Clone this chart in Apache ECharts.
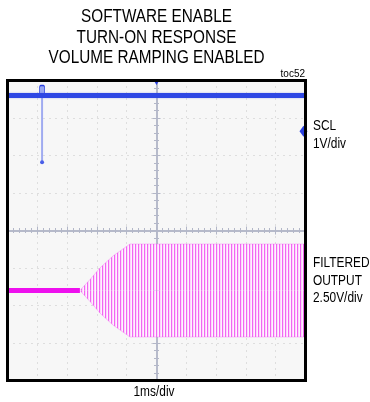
<!DOCTYPE html>
<html><head><meta charset="utf-8">
<script src="https://cdn.jsdelivr.net/npm/echarts@6/dist/echarts.min.js"></script>
<style>html,body{margin:0;padding:0;background:#fff}#c{width:370px;height:402px}</style>
</head><body><div id="c"></div>
<script>
// ---- text ----
const titleLines = ['SOFTWARE ENABLE', 'TURN-ON RESPONSE', 'VOLUME RAMPING ENABLED'];
const figureTag = 'toc52';
const timeScaleLabel = '1ms/div';
const ch1Label = ['SCL', '1V/div'];
const ch2Label = ['FILTERED', 'OUTPUT', '2.50V/div'];

// ---- data (time in ms, volts) ----
const sclLevel = [[-5, 0.95], [5, 0.95]];
const sclGlitch = [[-3.84, 0.95], [-3.84, -0.83]];
const outIdle = [[-5, 0], [-2.57, 0]];
const envTimes = [-2.57, -2.2, -1.9, -1.46, -0.89, 5];
const envUpper = [0, 0.8, 1.5, 2.3, 3.1, 3.1];
const envLower = [0, -0.8, -1.5, -2.3, -3.1, -3.1];

// ---- styles ----
const FONT = '"Liberation Sans", Arial, sans-serif';
const SQUEEZE = 0.85;
const pc = document.createElement('canvas');
pc.width = 3; pc.height = 2;
const g = pc.getContext('2d');
['#f266f2', '#fcd4fc', '#fff2ff'].forEach((c, i) => { g.fillStyle = c; g.fillRect(i, 0, 1, 2); });
const burstFill = { image: pc, repeat: 'repeat' };

const gridL = 7.5, gridT = 80.5, gridW = 298, gridH = 300;
const centerColor = '#b3b7c8';
const dotLine = { show: true, lineStyle: { color: '#c4c4c4', width: 1, type: [1, 5] } };

function divAxisX(pos, split) {
  return {
    type: 'value', min: -5, max: 5, interval: 1, position: pos,
    axisLine: { show: true, onZero: true, onZeroAxisIndex: 0, lineStyle: { color: centerColor, width: 1.5 } },
    axisTick: { show: true, inside: true, length: 4, lineStyle: { color: centerColor } },
    minorTick: { show: true, splitNumber: 5, length: 2.5, lineStyle: { color: centerColor } },
    splitLine: split ? dotLine : { show: false },
    axisLabel: { show: false }
  };
}
function divAxisY(pos, split) {
  return {
    type: 'value', min: -4, max: 4, interval: 1, position: pos,
    axisLine: { show: true, onZero: true, onZeroAxisIndex: 0, lineStyle: { color: centerColor, width: 1.5 } },
    axisTick: { show: true, inside: true, length: 4, lineStyle: { color: centerColor } },
    minorTick: { show: true, splitNumber: 5, length: 2.5, lineStyle: { color: centerColor } },
    splitLine: split ? dotLine : { show: false },
    axisLabel: { show: false }
  };
}

function label(text, x, y, size, align, squeeze) {
  return { type: 'text', z: 200, x: x, y: y, scaleX: squeeze, scaleY: 1,
    style: { text: text, x: 0, y: 0, textAlign: align, textVerticalAlign: 'middle', fontSize: size, fontFamily: FONT, fill: '#000' } };
}
const texts = [];
titleLines.forEach((t, i) => texts.push(label(t, 156.5, [17, 38, 58.5][i], 18, 'center', SQUEEZE)));
texts.push(label(figureTag, 305, 74.5, 10, 'right', 1));
ch1Label.forEach((t, i) => texts.push(label(t, 313, 126.5 + i * 18, 14, 'left', SQUEEZE)));
ch2Label.forEach((t, i) => texts.push(label(t, 313, 263.5 + i * 17.5, 14, 'left', SQUEEZE)));
texts.push(label(timeScaleLabel, 154, 392, 14, 'center', SQUEEZE));
texts.push({ type: 'rect', z: 150, shape: { x: gridL, y: gridT, width: gridW, height: gridH }, style: { fill: null, stroke: '#000', lineWidth: 3 } });

const chart = echarts.init(document.getElementById('c'), null, { renderer: 'canvas' });
chart.setOption({
  animation: false,
  backgroundColor: '#fff',
  grid: { left: gridL, top: gridT, width: gridW, height: gridH, show: true, backgroundColor: '#f7f7f7', borderWidth: 0 },
  xAxis: [divAxisX('bottom', true), divAxisX('top', false)],
  yAxis: [
    divAxisY('left', true), divAxisY('right', false),
    { type: 'value', min: -6.65, max: 1.35, show: false },
    { type: 'value', min: -6, max: 14, show: false }
  ],
  graphic: texts,
  series: [
    {
      type: 'line', xAxisIndex: 0, yAxisIndex: 3, data: envTimes.map((t, i) => [t, envUpper[i]]),
      showSymbol: false, z: 3, lineStyle: { width: 0.6, color: 'rgba(240,80,240,0.5)' },
      areaStyle: { color: burstFill, opacity: 1 }
    },
    {
      type: 'line', xAxisIndex: 0, yAxisIndex: 3, data: envTimes.map((t, i) => [t, envLower[i]]),
      showSymbol: false, z: 3, lineStyle: { width: 0.6, color: 'rgba(240,80,240,0.5)' },
      areaStyle: { color: burstFill, opacity: 1 }
    },
    {
      type: 'line', xAxisIndex: 0, yAxisIndex: 3, data: outIdle, showSymbol: false, z: 4,
      lineStyle: { width: 5, color: '#ee10ee' }
    },
    {
      type: 'line', xAxisIndex: 0, yAxisIndex: 2, data: sclGlitch, z: 4,
      symbol: 'circle', symbolSize: 4, showSymbol: true, itemStyle: { color: '#4a5fe8' },
      lineStyle: { width: 2, color: 'rgba(90,110,235,0.55)' },
      markPoint: {
        label: { show: false },
        data: [{ coord: sclGlitch[0], symbol: 'roundRect', symbolSize: [5, 10], symbolOffset: [0, -5],
          itemStyle: { color: '#9aa8f2', borderColor: '#2a40e0', borderWidth: 1 } }]
      }
    },
    {
      type: 'line', xAxisIndex: 0, yAxisIndex: 2, data: sclLevel, showSymbol: false, z: 5,
      lineStyle: { width: 5, color: '#2e47e4', shadowColor: 'rgba(60,80,230,0.4)', shadowBlur: 2 },
      markPoint: {
        label: { show: false },
        data: [
          { coord: [5, 0], symbol: 'diamond', symbolSize: [8, 11], symbolOffset: [-2, 0], itemStyle: { color: '#2a40e0' } },
          { coord: [0, 1.35], symbol: 'triangle', symbolRotate: 180, symbolSize: [6, 5], symbolOffset: [0, 2], itemStyle: { color: '#2a40e0' } }
        ]
      }
    }
  ]
});
</script></body></html>
